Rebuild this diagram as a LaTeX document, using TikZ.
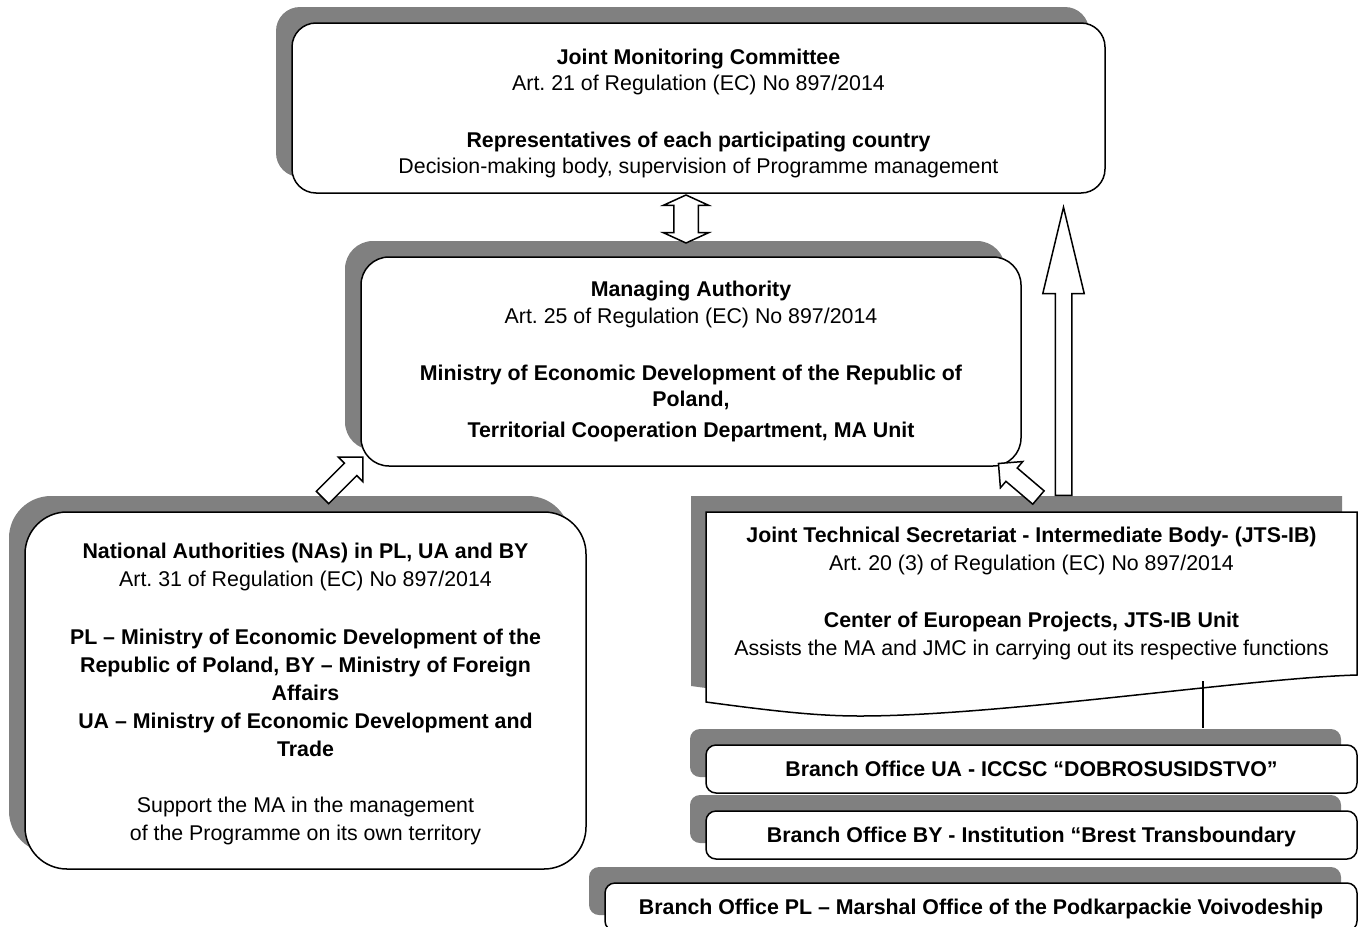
\documentclass[tikz,border=0pt]{standalone}
\usepackage{fontspec}
\setmainfont{Liberation Sans}
\usetikzlibrary{calc}
\usetikzlibrary{shapes.arrows,shadows}
\frenchspacing

\tikzset{
  orgbox/.style={draw, line width=1.5pt, fill=white, align=center, inner sep=0pt,
    general shadow={fill=gray, shadow xshift=-16pt, shadow yshift=16pt}},
  branchbox/.style={orgbox, rounded corners=10pt, minimum height=48,
    text height=15.3pt, text depth=0pt,
    font=\bfseries\fontsize{21.35}{26}\selectfont},
  blockarrow/.style={draw, line width=1.5pt, fill=white, inner xsep=0pt, anchor=tail},
}

\begin{document}
\begin{tikzpicture}[x=1pt, y=-1pt, font=\fontsize{21.35}{26}\selectfont]
    \useasboundingbox (0,0) rectangle (1362,926);
    \clip (0,0) rectangle (1362,926);

    \coordinate (jtsNW) at (706,512);
    \coordinate (jtsNE) at (1357,512);
    \coordinate (jtsSE) at (1357,675);
    \coordinate (jtsSW) at (706,702);
    \coordinate (jtsFoot) at (1203,681);
    \coordinate (dblTop) at (686,195);
    \coordinate (dblBot) at (686,243);
    \coordinate (naTail) at (322,498);
    \coordinate (jtsTail) at (1039,498);
    \coordinate (upTail) at (1063.5,496);

    % boxes
    \node [orgbox, rounded corners=24pt, minimum width=813, minimum height=170] (jmc) at (698.5,108)
      {\rule{0pt}{26.5pt}\textbf{Joint Monitoring Committee}\\
       Art. 21 of Regulation (EC) No 897/2014\\[31pt]
       \textbf{Representatives of each participating country}\\
       Decision-making body, supervision of Programme management};
    \node [orgbox, rounded corners=28pt, minimum width=660, minimum height=209] (ma) at (691,361.5)
      {\textbf{Managing Authority}\\[1pt]
       Art. 25 of Regulation (EC) No 897/2014\\[31pt]
       \textbf{Ministry of Economic Development of the Republic of}\\
       \textbf{Poland,}\\[5pt]
       \textbf{Territorial Cooperation Department, MA Unit}};
    \node [orgbox, rounded corners=42pt, minimum width=561, minimum height=357,
      font=\fontsize{21.35}{28}\selectfont] (na) at (305.5,690.5)
      {\rule{0pt}{21.5pt}\textbf{National Authorities (NAs) in PL, UA and BY}\\
       Art. 31 of Regulation (EC) No 897/2014\\[30pt]
       \textbf{PL – Ministry of Economic Development of the}\\
       \textbf{Republic of Poland, BY – Ministry of Foreign}\\
       \textbf{Affairs}\\
       \textbf{UA – Ministry of Economic Development and}\\
       \textbf{Trade}\\[28pt]
       Support the MA in the management\\
       of the Programme on its own territory};

    \draw [line width=1.5pt, fill=white, general shadow={fill=gray, shadow xshift=-15pt, shadow yshift=16pt}]
      (jtsNW) -- (jtsNE) -- (jtsSE) .. controls (1250,678) and (1000,716) .. (860,716)
      .. controls (820,716) and (780,712) .. (jtsSW) -- cycle;
    \node [align=center, inner sep=0pt, font=\fontsize{21.35}{28}\selectfont] (jts) at (1031.5,593.5)
      {\textbf{Joint Technical Secretariat - Intermediate Body- (JTS-IB)}\\
       Art. 20 (3) of Regulation (EC) No 897/2014\\[29pt]
       \textbf{Center of European Projects, JTS-IB Unit}\\
       Assists the MA and JMC in carrying out its respective functions};

    \node [branchbox, minimum width=651] (ua) at (1031.5,769) {Branch Office UA - ICCSC “DOBROSUSIDSTVO”};
    \node [branchbox, minimum width=651] (by) at (1031.5,835) {Branch Office BY - Institution “Brest Transboundary};
    \node [branchbox, minimum width=752] (pl) at (981,907) {Branch Office PL – Marshal Office of the Podkarpackie Voivodeship};

    \draw [line width=1.5pt] (jtsFoot) -- ($(ua.north -| jtsFoot)+(0,-16)$);

    % arrows
    \node [blockarrow, double arrow, anchor=center, rotate=90, minimum height=48, inner ysep=11.5pt,
      double arrow head extend=10.5pt, double arrow tip angle=131] (dblArrow) at ($(dblTop)!.5!(dblBot)$) {};
    \node [blockarrow, single arrow, rotate=45, minimum height=57, inner ysep=8pt,
      single arrow head extend=8.5pt, single arrow tip angle=90] (naArrow) at (naTail) {};
    \node [blockarrow, single arrow, rotate=139.6, minimum height=52.5, inner ysep=8pt,
      single arrow head extend=8.5pt, single arrow tip angle=90] (jtsArrow) at (jtsTail) {};
    \node [blockarrow, single arrow, rotate=90, minimum height=288, inner ysep=7.5pt,
      single arrow head extend=12.5pt, single arrow tip angle=27] (upArrow) at (upTail) {};
\end{tikzpicture}
\end{document}
